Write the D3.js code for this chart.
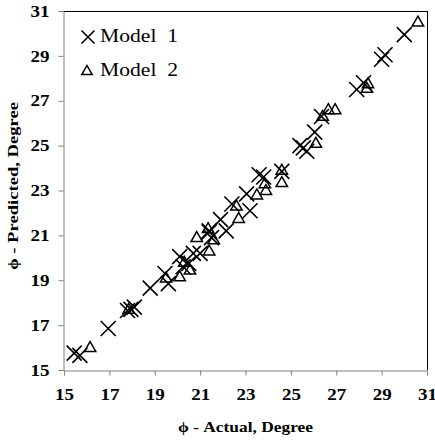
<!DOCTYPE html>
<html><head><meta charset="utf-8">
<script src="https://cdn.jsdelivr.net/npm/d3@7"></script>
<style>body{margin:0;background:#fff}svg{display:block}</style>
</head><body>
<script>
const xTicks = [15,17,19,21,23,25,27,29,31];
const yTicks = [15,17,19,21,23,25,27,29,31];
const seriesNames = ["Model  1","Model  2"];
const model1Actual = [15.45,15.7,16.95,17.8,17.95,18.1,18.8,19.45,19.6,20.1,20.25,20.5,20.7,21.0,21.4,21.5,21.4,21.9,22.15,22.4,23.05,23.2,23.6,23.8,24.6,25.4,25.55,25.7,26.05,26.35,27.9,28.2,29.0,29.15,30.0];
const model1Pred   = [15.75,15.65,16.85,17.65,17.7,17.8,18.65,19.3,18.85,20.05,19.6,19.75,20.2,20.2,21.2,20.9,21.15,21.7,21.2,22.4,22.85,22.1,23.7,23.6,23.85,25.0,24.9,24.75,25.6,26.3,27.5,27.8,28.85,29.05,29.95];
const model2Actual = [16.15,17.85,19.5,20.1,20.55,20.3,20.85,21.35,21.4,21.6,22.6,22.7,23.5,23.85,23.9,24.6,24.6,26.1,26.4,26.65,26.95,28.35,28.4,30.6];
const model2Pred   = [16.0,17.7,19.1,19.15,19.45,19.8,20.9,21.3,20.3,20.8,22.3,21.75,22.8,23.3,23.0,23.9,23.35,25.1,26.3,26.6,26.6,27.55,27.75,30.5];

const W=435,H=440, L=64, R=427, T=11, B=370;
const svg=d3.select("body").append("svg").attr("width",W).attr("height",H);
const x=d3.scaleLinear().domain([15,31]).range([L,R]);
const y=d3.scaleLinear().domain([15,31]).range([B,T]);
const serif="'Liberation Serif','Times New Roman',serif";

// frame top/right
svg.append("line").attr("x1",L).attr("x2",R).attr("y1",T+0.5).attr("y2",T+0.5).attr("stroke","#000");
svg.append("line").attr("x1",R+0.5).attr("x2",R+0.5).attr("y1",T).attr("y2",B).attr("stroke","#000");

const xa=svg.append("g").attr("transform",`translate(0,${B+0.5})`)
  .call(d3.axisBottom(x).tickValues(xTicks).tickSize(5).tickPadding(13));
const ya=svg.append("g").attr("transform",`translate(${L-0.5},0)`)
  .call(d3.axisLeft(y).tickValues(yTicks).tickSize(5).tickPadding(9));
[xa,ya].forEach(a=>{
  a.selectAll("path,line").attr("stroke","#808080").attr("stroke-width",1);
  a.selectAll("text").attr("font-family",serif).attr("font-weight","bold").attr("font-size",16).attr("fill","#000")
   .attr("textLength",19).attr("lengthAdjust","spacingAndGlyphs");
});

function cross(g,cx,cy,s){
  g.append("path").attr("d",`M${cx-s},${cy-s}L${cx+s},${cy+s}M${cx-s},${cy+s}L${cx+s},${cy-s}`)
   .attr("stroke","#000").attr("stroke-width",1.6).attr("fill","none");
}
function tri(g,cx,cy,s){
  g.append("path").attr("d",`M${cx},${cy-s}L${cx+s*0.95},${cy+s*0.65}L${cx-s*0.95},${cy+s*0.65}Z`)
   .attr("stroke","#000").attr("stroke-width",1.5).attr("fill","none");
}
const pts=svg.append("g");
model1Actual.forEach((v,i)=>cross(pts,x(v),y(model1Pred[i]),7.5));
model2Actual.forEach((v,i)=>tri(pts,x(v),y(model2Pred[i]),6));

// legend
const lg=svg.append("g");
cross(lg,88,37,6.5);
tri(lg,87,71,5.5);
[0,1].forEach(i=>{
  lg.append("text").attr("x",100).attr("y",42+i*34).text(seriesNames[i])
    .attr("font-family",serif).attr("font-size",18).style("white-space","pre")
    .attr("textLength",78).attr("lengthAdjust","spacingAndGlyphs");
});

svg.append("text").attr("x",178).attr("y",432)
  .attr("font-family",serif).attr("font-weight","bold").attr("font-size",14)
  .attr("textLength",135).attr("lengthAdjust","spacingAndGlyphs").text("ϕ - Actual, Degree");
svg.append("text").attr("transform","translate(18,270) rotate(-90)")
  .attr("font-family",serif).attr("font-weight","bold").attr("font-size",14)
  .attr("textLength",168).attr("lengthAdjust","spacingAndGlyphs").text("ϕ - Predicted, Degree");
</script>
</body></html>
